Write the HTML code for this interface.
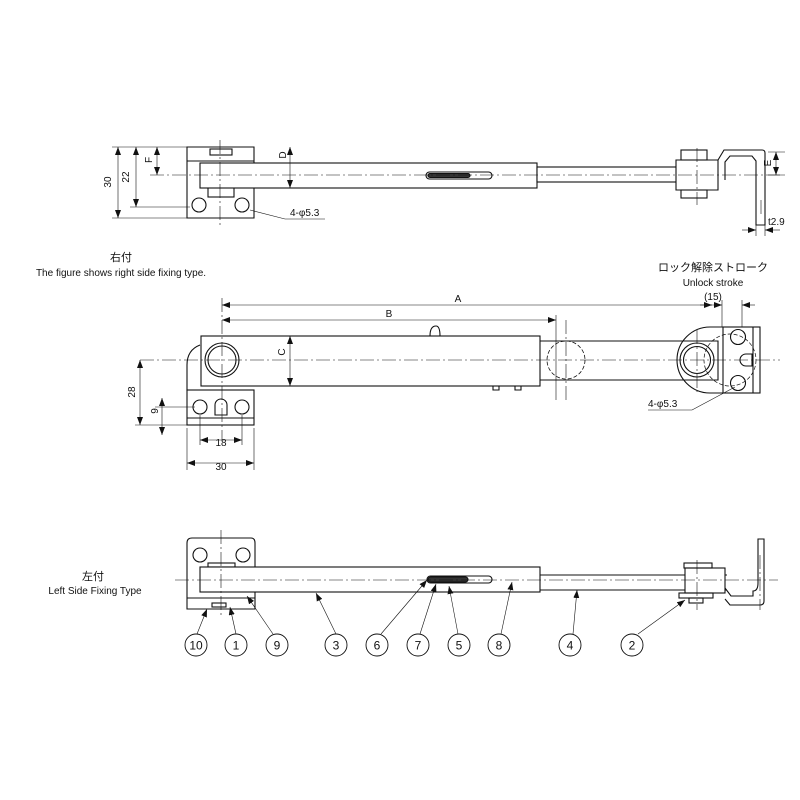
<!DOCTYPE html>
<html><head><meta charset="utf-8"><style>
html,body{margin:0;padding:0;background:#fff;}
svg{display:block;}
text{font-family:"Liberation Sans","Noto Sans CJK JP",sans-serif;fill:#111;}
</style></head><body>
<svg width="800" height="800" viewBox="0 0 800 800" xmlns="http://www.w3.org/2000/svg">
<defs>
<marker id="a" markerWidth="8" markerHeight="6" refX="8" refY="3" orient="auto-start-reverse" markerUnits="userSpaceOnUse"><path d="M0,0L8,3L0,6z" fill="#111"/></marker>
</defs>
<g stroke="#111" fill="none" stroke-width="1.1">
<!-- ============ TOP VIEW ============ -->
<path d="M187,147 h67 v71 h-67 z" fill="#fff"/>
<path d="M187,161 h67"/>
<rect x="210" y="149" width="22" height="6"/>
<rect x="208" y="187" width="26" height="10"/>
<rect x="200" y="163" width="337" height="25" fill="#fff"/>
<circle cx="199" cy="205" r="7"/><circle cx="242" cy="205" r="7"/>
<rect x="537" y="167" width="143" height="15" fill="#fff"/>
<rect x="426" y="172" width="66" height="7" rx="3.5"/>
<rect x="428" y="173.5" width="42" height="4" rx="2" fill="#333"/>
<path d="M676,160 h42 v30 h-42 z" fill="#fff"/>
<rect x="681" y="150" width="26" height="10"/>
<rect x="681" y="190" width="26" height="8"/>
<path d="M718,160 l6,-10 h38 q3,0 3,3 v72 h-9 v-64 l-4,-5 h-22 l-5,6 v18"/>
<!-- centerlines -->
<g stroke-width="0.6" stroke-dasharray="14,3,2,3">
<path d="M150,175 H780"/>
<path d="M220,140 V225"/><path d="M697,148 V205"/><path d="M761,200 V215"/>
</g>
<!-- dims -->
<g stroke-width="0.6">
<path d="M112,147 H187 M112,218 H187 M130,207 H190 M150,147 H187"/>
<path d="M118,147 V218" marker-start="url(#a)" marker-end="url(#a)"/>
<path d="M136,147 V207" marker-start="url(#a)" marker-end="url(#a)"/>
<path d="M157,147 V175" marker-start="url(#a)" marker-end="url(#a)"/>
<path d="M290,147 V188" marker-start="url(#a)" marker-end="url(#a)"/>
<path d="M768,152 H785 M768,175 H785"/>
<path d="M776,152 V175" marker-start="url(#a)" marker-end="url(#a)"/>
<path d="M756,225 V236 M765,225 V236"/>
<path d="M742,230 H756" marker-end="url(#a)"/><path d="M780,230 H765" marker-end="url(#a)"/>
<path d="M250,210 L285,219 H325"/>
</g>
<!-- ============ MIDDLE VIEW ============ -->
<path d="M200,345 q-13,5 -13,20 v25 h13" />
<rect x="187" y="390" width="67" height="35" fill="#fff"/>
<path d="M187,418 H254"/>
<circle cx="200" cy="407" r="7"/><circle cx="242" cy="407" r="7"/>
<path d="M215,415 v-10 a6,6 0 0 1 12,0 v10 z"/>
<rect x="201" y="336" width="339" height="50" fill="#fff"/>
<circle cx="222" cy="360" r="17"/><circle cx="222" cy="360" r="14"/>
<path d="M430,336 q0,-10 6,-10 q4,0 4,10"/>
<path d="M493,386 v4 h6 v-4 M515,386 v4 h6 v-4"/>
<path d="M540,341 H718 V380 H540"/>
<circle cx="566" cy="360" r="19" stroke-dasharray="4,2" stroke-width="0.8"/>
<path d="M723,327 h-13 a33,33 0 0 0 0,66 h13" fill="none"/>
<rect x="680" y="341" width="38" height="39" fill="none" stroke="none"/>
<circle cx="697" cy="360" r="17" fill="#fff"/><circle cx="697" cy="360" r="13.5"/>
<circle cx="730" cy="360" r="26" stroke-dasharray="4,2" stroke-width="0.7"/>
<rect x="723" y="327" width="37" height="66" fill="none"/>
<path d="M753,327 V393"/>
<circle cx="738" cy="337" r="7.5"/><circle cx="738" cy="383" r="7.5"/>
<path d="M752,354 h-6 a6,6 0 0 0 0,12 h6 z"/>
<g stroke-width="0.6" stroke-dasharray="14,3,2,3">
<path d="M140,360 H780"/><path d="M222,298 V440"/><path d="M697,330 V392"/><path d="M566,320 V400"/>
</g>
<g stroke-width="0.6">
<path d="M135,425 H187 M155,407 H195 M187,428 V470 M254,428 V470 M200,415 V445 M242,415 V445"/>
<path d="M140,360 V425" marker-start="url(#a)" marker-end="url(#a)"/>
<path d="M162,398 V407" marker-start="url(#a)"/><path d="M162,435 V425" marker-start="url(#a)"/>
<path d="M162,407 V425"/>
<path d="M200,440 H242" marker-start="url(#a)" marker-end="url(#a)"/>
<path d="M187,463 H254" marker-start="url(#a)" marker-end="url(#a)"/>
<path d="M222,305 H722" marker-start="url(#a)" marker-end="url(#a)"/>
<path d="M222,320 H556" marker-start="url(#a)" marker-end="url(#a)"/>
<path d="M556,315 V400 M722,300 V327 M742,300 V327"/>
<path d="M700,305 H712" marker-end="url(#a)"/><path d="M755,305 H742" marker-end="url(#a)"/>
<path d="M290,336 V386" marker-start="url(#a)" marker-end="url(#a)"/>
<path d="M648,410 H692 L735,387" />
</g>
<!-- ============ BOTTOM VIEW ============ -->
<path d="M187,609 V543 q0,-5 5,-5 h59 q4,0 4,5 v66 z" fill="#fff"/>
<path d="M187,598 H255"/>
<circle cx="200" cy="555" r="7"/><circle cx="243" cy="555" r="7"/>
<rect x="208" y="563" width="27" height="4"/>
<rect x="212" y="603" width="14" height="4"/>
<rect x="200" y="567" width="340" height="25" fill="#fff"/>
<rect x="427" y="576" width="65" height="7" rx="3.5"/>
<rect x="428" y="577" width="40" height="5" rx="2.5" fill="#333"/>
<path d="M540,575 H727 M540,590 H727"/>
<rect x="685" y="568" width="40" height="25" fill="#fff"/>
<rect x="684" y="563" width="28" height="5"/><rect x="679" y="593" width="34" height="5"/>
<rect x="689" y="598" width="14" height="5"/>
<path d="M725,588 l6,8 h22 v-5 q5,0 5,-8 v-44 h6 v62 q0,4 -4,4 h-30 l-5,-6"/>
<g stroke-width="0.6" stroke-dasharray="14,3,2,3">
<path d="M175,580 H778"/><path d="M221,530 V615"/><path d="M697,560 V610"/><path d="M760,555 V610"/>
</g>
<g stroke-width="0.6" marker-end="url(#a)">
<path d="M197,634 L207,609"/><path d="M236,634 L230,607"/><path d="M273,634 L247,596"/>
<path d="M336,634 L316,593"/><path d="M381,634 L427,580"/><path d="M420,634 L436,584"/>
<path d="M458,634 L449,586"/><path d="M501,634 L512,582"/><path d="M573,634 L577,590"/>
<path d="M638,634 L685,600"/>
</g>
<g stroke-width="0.9">
<circle cx="196" cy="645" r="11"/><circle cx="236" cy="645" r="11"/><circle cx="277" cy="645" r="11"/>
<circle cx="336" cy="645" r="11"/><circle cx="377" cy="645" r="11"/><circle cx="418" cy="645" r="11"/>
<circle cx="459" cy="645" r="11"/><circle cx="499" cy="645" r="11"/><circle cx="570" cy="645" r="11"/>
<circle cx="632" cy="645" r="11"/>
</g>
</g>
<!-- TEXT -->
<g font-size="11">
<text x="196" y="649.5" text-anchor="middle" font-size="12">10</text>
<text x="236" y="649.5" text-anchor="middle" font-size="12">1</text>
<text x="277" y="649.5" text-anchor="middle" font-size="12">9</text>
<text x="336" y="649.5" text-anchor="middle" font-size="12">3</text>
<text x="377" y="649.5" text-anchor="middle" font-size="12">6</text>
<text x="418" y="649.5" text-anchor="middle" font-size="12">7</text>
<text x="459" y="649.5" text-anchor="middle" font-size="12">5</text>
<text x="499" y="649.5" text-anchor="middle" font-size="12">8</text>
<text x="570" y="649.5" text-anchor="middle" font-size="12">4</text>
<text x="632" y="649.5" text-anchor="middle" font-size="12">2</text>
<text x="121" y="261" text-anchor="middle">右付</text>
<text x="121" y="276" text-anchor="middle" font-size="10">The figure shows right side fixing type.</text>
<text x="713" y="271" text-anchor="middle">ロック解除ストローク</text>
<text x="713" y="286" text-anchor="middle" font-size="10">Unlock stroke</text>
<text x="713" y="300" text-anchor="middle" font-size="10">(15)</text>
<text x="93" y="580" text-anchor="middle">左付</text>
<text x="95" y="594" text-anchor="middle" font-size="10">Left Side Fixing Type</text>
<text x="458" y="302" text-anchor="middle" font-size="10">A</text>
<text x="389" y="317" text-anchor="middle" font-size="10">B</text>
<text x="221" y="446" text-anchor="middle" font-size="10">18</text>
<text x="221" y="470" text-anchor="middle" font-size="10">30</text>
<text x="290" y="216" font-size="10">4-φ5.3</text>
<text x="648" y="407" font-size="10">4-φ5.3</text>
<text x="768" y="225" font-size="10">t2.9</text>
<text transform="translate(111,182) rotate(-90)" text-anchor="middle" font-size="10">30</text>
<text transform="translate(129,177) rotate(-90)" text-anchor="middle" font-size="10">22</text>
<text transform="translate(152,160) rotate(-90)" text-anchor="middle" font-size="10">F</text>
<text transform="translate(286,155) rotate(-90)" text-anchor="middle" font-size="10">D</text>
<text transform="translate(771,163) rotate(-90)" text-anchor="middle" font-size="10">E</text>
<text transform="translate(135,392) rotate(-90)" text-anchor="middle" font-size="10">28</text>
<text transform="translate(158,411) rotate(-90)" text-anchor="middle" font-size="10">9</text>
<text transform="translate(285,352) rotate(-90)" text-anchor="middle" font-size="10">C</text>
</g>
</svg>
</body></html>
